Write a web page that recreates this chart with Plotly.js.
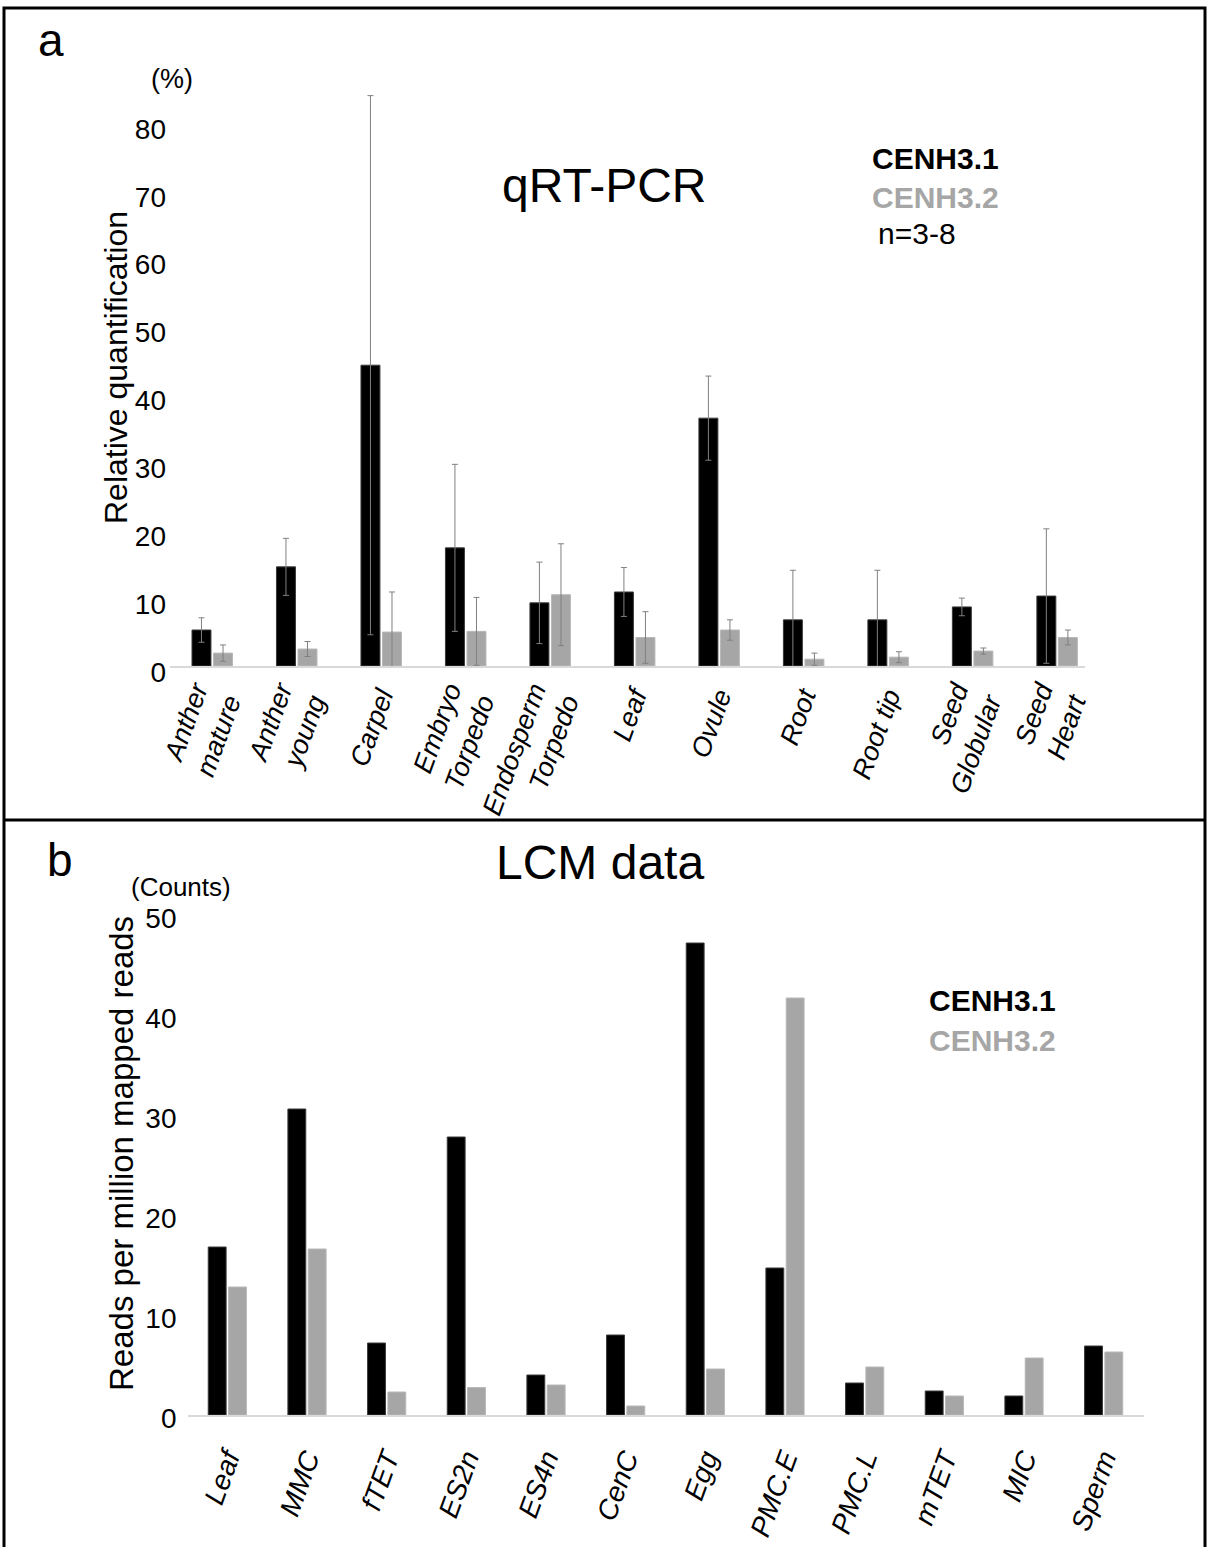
<!DOCTYPE html>
<html>
<head>
<meta charset="utf-8">
<script src="https://cdn.plot.ly/plotly-3.0.1.min.js"></script>
<style>
html, body { margin: 0; padding: 0; background: #ffffff; }
#chart { width: 1210px; height: 1547px; }
</style>
</head>
<body>
<div id="chart"></div>
<script>
// ---- Panel a: qRT-PCR ----
const tissuesA = ["Anther<br>mature", "Anther<br>young", "Carpel", "Embryo<br>Torpedo", "Endosperm<br>Torpedo", "Leaf", "Ovule", "Root", "Root tip", "Seed<br>Globular", "Seed<br>Heart"];
const qpcrCENH31 = [5.3, 14.6, 44.3, 17.4, 9.3, 10.9, 36.5, 6.8, 6.8, 8.7, 10.3];
const qpcrCENH31Err = [1.8, 4.2, 39.7, 12.3, 6.0, 3.6, 6.2, 7.3, 7.3, 1.3, 9.9];
const qpcrCENH32 = [1.9, 2.5, 5.0, 5.1, 10.5, 4.2, 5.3, 1.0, 1.3, 2.2, 4.2];
const qpcrCENH32Err = [1.2, 1.1, 5.9, 5.0, 7.5, 3.8, 1.5, 0.9, 0.8, 0.45, 1.1];
const ticksA = [0, 10, 20, 30, 40, 50, 60, 70, 80];

// ---- Panel b: LCM data ----
const tissuesB = ["Leaf", "MMC", "fTET", "ES2n", "ES4n", "CenC", "Egg", "PMC.E", "PMC.L", "mTET", "MIC", "Sperm"];
const lcmCENH31 = [16.8, 30.6, 7.2, 27.8, 4.0, 8.0, 47.2, 14.7, 3.2, 2.4, 1.9, 6.9];
const lcmCENH32 = [12.8, 16.6, 2.3, 2.75, 3.0, 0.9, 4.6, 41.7, 4.8, 1.9, 5.7, 6.3];
const ticksB = [0, 10, 20, 30, 40, 50];

const seriesNames = ["CENH3.1", "CENH3.2"];

// ---- layout helpers (page pixels -> paper fractions) ----
const W = 1210, H = 1547;
const px = x => x / W;
const py = y => 1 - y / H;
const FONT = "Arial, 'Liberation Sans', sans-serif";
const BLACK = "#000000", GREY = "#a6a6a6", ERR = "#808080";

const traces = [
  {
    type: "bar", name: seriesNames[0], x: tissuesA, y: qpcrCENH31,
    marker: { color: BLACK, line: { color: "#3a3a3a", width: 1 } },
    error_y: { type: "data", array: qpcrCENH31Err, visible: true, color: ERR, thickness: 1, width: 3 },
    xaxis: "x", yaxis: "y", showlegend: false, hoverinfo: "x+y"
  },
  {
    type: "bar", name: seriesNames[1], x: tissuesA, y: qpcrCENH32,
    marker: { color: GREY, line: { color: "#b8b8b8", width: 1 } },
    error_y: { type: "data", array: qpcrCENH32Err, visible: true, color: ERR, thickness: 1, width: 3 },
    xaxis: "x", yaxis: "y", showlegend: false, hoverinfo: "x+y"
  },
  {
    type: "bar", name: seriesNames[0], x: tissuesB, y: lcmCENH31,
    marker: { color: BLACK, line: { color: "#3a3a3a", width: 1 } },
    xaxis: "x2", yaxis: "y2", showlegend: false, hoverinfo: "x+y"
  },
  {
    type: "bar", name: seriesNames[1], x: tissuesB, y: lcmCENH32,
    marker: { color: GREY, line: { color: "#b8b8b8", width: 1 } },
    xaxis: "x2", yaxis: "y2", showlegend: false, hoverinfo: "x+y"
  }
];

const xCommon = {
  type: "category", showgrid: false, zeroline: false,
  showline: true, linecolor: "#d9d9d9", linewidth: 2,
  ticks: "", tickangle: -70,
  fixedrange: true
};
const yCommon = {
  showgrid: false, zeroline: false, showline: false, ticks: "",
  tickmode: "array",
  fixedrange: true
};

function note(text, x, y, size, opts) {
  return Object.assign({
    text: text, x: px(x), y: py(y), xref: "paper", yref: "paper",
    xanchor: "center", yanchor: "middle", showarrow: false,
    font: { family: FONT, size: size, color: BLACK }
  }, opts || {});
}

const layout = {
  width: W, height: H,
  margin: { l: 0, r: 0, t: 0, b: 0 },
  paper_bgcolor: "#ffffff", plot_bgcolor: "rgba(0,0,0,0)",
  barmode: "group", bargap: 0.49, bargroupgap: 0.12,
  showlegend: false,
  font: { family: FONT, color: BLACK },
  xaxis: Object.assign({}, xCommon, {
    domain: [px(170), px(1085)], range: [-0.5, 10.33], anchor: "y",
    tickfont: { family: FONT, size: 27, color: BLACK, style: "italic" },
    ticklabelstandoff: 2
  }),
  yaxis: Object.assign({}, yCommon, {
    domain: [py(666), py(80)], range: [0, (666 - 80) / 6.79], anchor: "x",
    tickvals: ticksA, ticktext: ticksA.map(String),
    tickfont: { family: FONT, size: 28, color: BLACK },
    ticklabelstandoff: 3, ticklabelshift: 6
  }),
  xaxis2: Object.assign({}, xCommon, {
    domain: [px(187.5), px(1143.5)], range: [-0.5, 11.5], anchor: "y2",
    tickfont: { family: FONT, size: 28, color: BLACK, style: "italic" },
    ticklabelstandoff: 14
  }),
  yaxis2: Object.assign({}, yCommon, {
    domain: [py(1415), py(895)], range: [0, 52], anchor: "x2",
    tickvals: ticksB, ticktext: ticksB.map(String),
    tickfont: { family: FONT, size: 28, color: BLACK },
    ticklabelstandoff: 10, ticklabelshift: 3
  }),
  shapes: [
    { type: "rect", xref: "paper", yref: "paper", x0: px(4), x1: px(1205), y0: py(1600), y1: py(8),
      line: { color: BLACK, width: 3 }, fillcolor: "rgba(0,0,0,0)", layer: "above" },
    { type: "line", xref: "paper", yref: "paper", x0: px(4), x1: px(1205), y0: py(820), y1: py(820),
      line: { color: BLACK, width: 3 }, layer: "above" }
  ],
  annotations: [
    note("a", 51, 40, 46),
    note("(%)", 172, 79, 27),
    note("Relative quantification", 116, 368, 32, { textangle: -90 }),
    note("qRT-PCR", 604, 185, 48),
    note("<b>" + seriesNames[0] + "</b>", 870, 159, 30, { xanchor: "left" }),
    note("<b>" + seriesNames[1] + "</b>", 870, 197, 30, { xanchor: "left", font: { family: FONT, size: 30, color: GREY } }),
    note("n=3-8", 876, 233, 30, { xanchor: "left" }),

    note("b", 60, 860, 46),
    note("LCM data", 600, 862, 48),
    note("(Counts)", 181, 887, 26),
    note("Reads per million mapped reads", 121, 1154, 33, { textangle: -90 }),
    note("<b>" + seriesNames[0] + "</b>", 927, 1000, 30, { xanchor: "left" }),
    note("<b>" + seriesNames[1] + "</b>", 927, 1040, 30, { xanchor: "left", font: { family: FONT, size: 30, color: GREY } })
  ]
};

Plotly.newPlot("chart", traces, layout, { staticPlot: true, displayModeBar: false });
</script>
</body>
</html>
